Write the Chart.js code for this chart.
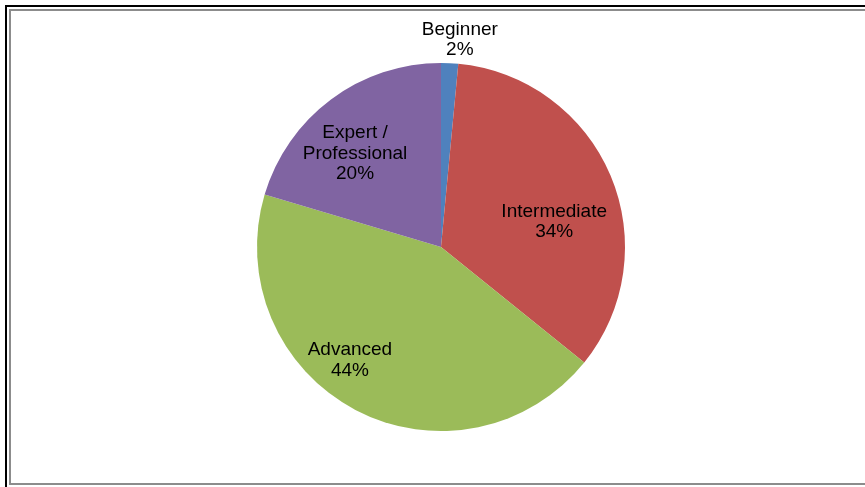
<!DOCTYPE html>
<html>
<head>
<meta charset="utf-8">
<script src="https://cdn.jsdelivr.net/npm/chart.js@4/dist/chart.umd.min.js"></script>
<style>
  html, body { margin: 0; padding: 0; background: #fff; }
  #wrap { width: 865px; height: 487px; }
</style>
</head>
<body>
<div id="wrap"><canvas id="chart" width="865" height="487"></canvas></div>
<script>
// survey: skill level of respondents (percent)
const levels = ['Beginner', 'Intermediate', 'Advanced', 'Expert /\nProfessional'];
const shares = [1.5, 34.3, 43.8, 20.4];
const colors = ['#4f81bd', '#c0504d', '#9bbb59', '#8064a2'];

// where each label sits: angle (deg from top, clockwise) and fraction of radius
const labelSpots = [[5.2, 1.13], [77.5, 0.63], [218.8, 0.79], [317.4, 0.69]];

const frame = {
    id: 'frame',
    beforeDraw(chart) {
        const c = chart.ctx;
        const w = chart.width, h = chart.height;
        c.save();
        c.fillStyle = '#000';
        c.fillRect(5, 5, w - 5, 2);
        c.fillRect(5, 5, 2, h - 5);
        c.fillStyle = '#8c8c8c';
        c.fillRect(9, 9, w - 9, 2);
        c.fillRect(9, 9, 2, 476);
        c.fillRect(9, 483, w - 9, 2);
        c.restore();
    }
};

const sliceLabels = {
    id: 'sliceLabels',
    afterDatasetsDraw(chart) {
        const c = chart.ctx;
        const arcs = chart.getDatasetMeta(0).data;
        c.save();
        c.font = '19px "Liberation Sans", Arial, sans-serif';
        c.fillStyle = '#000';
        c.textAlign = 'center';
        c.textBaseline = 'middle';
        arcs.forEach((arc, i) => {
            const a = labelSpots[i][0] * Math.PI / 180;
            const r = arc.outerRadius * labelSpots[i][1];
            const cx = arc.x + r * Math.sin(a);
            const cy = arc.y - r * Math.cos(a);
            const lines = levels[i].split('\n');
            lines.push(Math.round(shares[i]) + '%');
            const lh = 20.5;
            const top = cy - (lines.length - 1) * lh / 2;
            lines.forEach((t, j) => c.fillText(t, cx, top + j * lh));
        });
        c.restore();
    }
};

new Chart(document.getElementById('chart'), {
    type: 'pie',
    data: {
        labels: levels,
        datasets: [{
            data: shares,
            backgroundColor: colors,
            borderWidth: 0
        }]
    },
    options: {
        responsive: false,
        animation: false,
        layout: {
            padding: { left: 257, right: 240, top: 63, bottom: 56 }
        },
        plugins: {
            legend: { display: false },
            tooltip: { enabled: false }
        }
    },
    plugins: [frame, sliceLabels]
});
</script>
</body>
</html>
